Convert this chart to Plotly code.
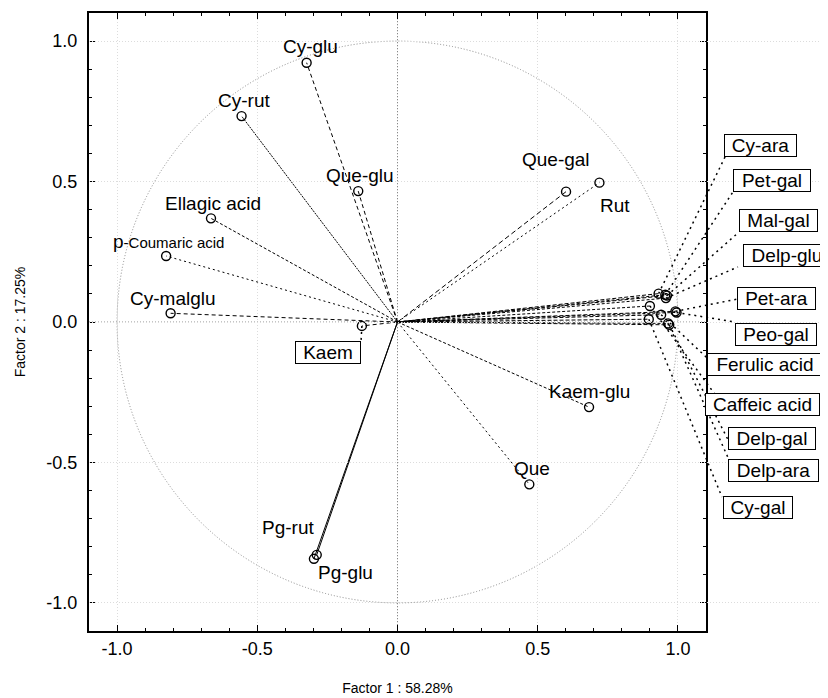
import plotly.graph_objects as go

# ---------------- data ----------------
names = ["Cy-glu", "Cy-rut", "Que-glu", "Ellagic acid", "p-Coumaric acid", "Cy-malglu",
         "Kaem", "Kaem-glu", "Que", "Pg-rut", "Pg-glu", "Que-gal", "Rut",
         "Cy-ara", "Pet-gal", "Mal-gal", "Delp-glu", "Pet-ara", "Peo-gal",
         "Ferulic acid", "Caffeic acid", "Delp-gal", "Delp-ara", "Cy-gal"]
factor1 = [-0.324, -0.556, -0.140, -0.665, -0.825, -0.809,
           -0.127, 0.683, 0.470, -0.288, -0.298, 0.601, 0.720,
           0.931, 0.955, 0.961, 0.957, 0.991, 0.995,
           0.940, 0.900, 0.969, 0.965, 0.896]
factor2 = [0.923, 0.733, 0.466, 0.369, 0.235, 0.031,
           -0.014, -0.303, -0.578, -0.829, -0.843, 0.464, 0.496,
           0.101, 0.097, 0.094, 0.085, 0.038, 0.034,
           0.026, 0.057, -0.010, -0.005, 0.010]
tick_vals = [-1.0, -0.5, 0.0, 0.5, 1.0]
tick_text = ["-1.0", "-0.5", "0.0", "0.5", "1.0"]
x_title = "Factor 1 : 58.28%"
y_title = "Factor 2 : 17.25%"

# ---------------- layout / style helpers ----------------
# free text labels (position of text centre, in axis units)
free_label_pos = {
    "Cy-glu": (-0.312, 0.979), "Cy-rut": (-0.547, 0.787), "Que-glu": (-0.134, 0.520),
    "Ellagic acid": (-0.658, 0.423), "p-Coumaric acid": (-0.818, 0.288),
    "Cy-malglu": (-0.801, 0.082), "Kaem-glu": (0.683, -0.246), "Que": (0.480, -0.523),
    "Pg-rut": (-0.390, -0.730), "Pg-glu": (-0.187, -0.890), "Que-gal": (0.565, 0.577),
    "Rut": (0.776, 0.413),
}
# boxed labels: (box centre x, box centre y, leader end x, leader end y, box width px)
boxed_label_pos = {
    "Kaem": (-0.248, -0.107, -0.130, -0.068, 66),
    "Cy-ara": (1.296, 0.630, 1.168, 0.588, 73),
    "Pet-gal": (1.335, 0.502, 1.196, 0.463, 78),
    "Mal-gal": (1.360, 0.363, 1.214, 0.317, 79),
    "Delp-glu": (1.388, 0.235, 1.214, 0.196, 88),
    "Pet-ara": (1.353, 0.082, 1.214, 0.082, 79),
    "Peo-gal": (1.350, -0.043, 1.203, 0.000, 82),
    "Ferulic acid": (1.310, -0.150, 1.104, -0.128, 116),
    "Caffeic acid": (1.303, -0.292, 1.139, -0.267, 115),
    "Delp-gal": (1.335, -0.413, 1.179, -0.420, 88),
    "Delp-ara": (1.342, -0.530, 1.179, -0.484, 91),
    "Cy-gal": (1.285, -0.662, 1.157, -0.623, 70),
}
dash_style = {
    "Cy-glu": "4px,3px", "Cy-rut": "2px,1px", "Que-glu": "4px,3px", "Ellagic acid": "3px,2px",
    "p-Coumaric acid": "2px,3px", "Cy-malglu": "4px,3px", "Kaem": "4px,3px",
    "Kaem-glu": "3px,2px", "Que": "2px,3px", "Pg-rut": "solid", "Pg-glu": "solid",
    "Que-gal": "5px,3px", "Rut": "2px,3px",
    "Cy-ara": "4px,2px", "Pet-gal": "3px,2px", "Mal-gal": "4px,2px", "Delp-glu": "3px,2px",
    "Pet-ara": "4px,2px", "Peo-gal": "3px,2px", "Ferulic acid": "4px,2px",
    "Caffeic acid": "3px,2px", "Delp-gal": "4px,2px", "Delp-ara": "3px,2px", "Cy-gal": "4px,2px",
}

# the page body adds an 8px offset, so the figure is 8px smaller than the window
W, H = 820, 690
ML, MR, MT, MB = 81, 0, 5, 67
plot_w = 617  # visible frame width in px
paper_w = W - ML - MR
px_per_unit = plot_w / 2.2
FONT = "Arial, Liberation Sans, Helvetica, sans-serif"
LABEL_SIZE = 19

fig = go.Figure()

# vectors from origin
for n, fx, fy in zip(names, factor1, factor2):
    fig.add_trace(go.Scatter(x=[0, fx], y=[0, fy], mode="lines",
                             line=dict(color="black", width=1, dash=dash_style[n]),
                             hoverinfo="skip", showlegend=False))
# points
fig.add_trace(go.Scatter(x=factor1, y=factor2, mode="markers", text=names,
                         marker=dict(symbol="circle-open", size=9, color="black",
                                     line=dict(width=1.4, color="black")),
                         showlegend=False, cliponaxis=False))

# leader lines (on a wider invisible x axis sharing the same scale)
for n, fx, fy in zip(names, factor1, factor2):
    if n in boxed_label_pos:
        bx, by, lx, ly, bw = boxed_label_pos[n]
        fig.add_trace(go.Scatter(x=[fx, lx], y=[fy, ly], mode="lines", xaxis="x2", yaxis="y",
                                 line=dict(color="black", width=1.5, dash="2px,4px"),
                                 hoverinfo="skip", showlegend=False))

# free labels
for n in names:
    if n in free_label_pos:
        tx, ty = free_label_pos[n]
        txt = n
        if n == "p-Coumaric acid":
            txt = "p<span style='font-size:15px'>-Coumaric acid</span>"
        fig.add_annotation(x=tx, y=ty, xref="x2", yref="y", text=txt, showarrow=False,
                           font=dict(family=FONT, size=LABEL_SIZE, color="black"),
                           xanchor="center", yanchor="middle")
# boxed labels
for n in names:
    if n in boxed_label_pos:
        bx, by, lx, ly, bw = boxed_label_pos[n]
        fig.add_annotation(x=bx, y=by, xref="x2", yref="y", text=n, showarrow=False,
                           font=dict(family=FONT, size=LABEL_SIZE, color="black"),
                           bordercolor="black", borderwidth=1, borderpad=0,
                           bgcolor="white", width=bw - 2, height=21,
                           xanchor="center", yanchor="middle")

# unit circle and zero lines
fig.add_shape(type="circle", xref="x", yref="y", x0=-1, y0=-1, x1=1, y1=1,
              line=dict(color="#8a8a8a", width=1, dash="1px,2px"), layer="below")
fig.add_shape(type="line", xref="x", yref="y domain", x0=0, x1=0, y0=0, y1=1,
              line=dict(color="#8a8a8a", width=1, dash="1px,2px"), layer="below")
fig.add_shape(type="line", xref="x domain", yref="y", x0=0, x1=1, y0=0, y1=0,
              line=dict(color="#8a8a8a", width=1, dash="1px,2px"), layer="below")

minor_vals = [round(-1.1 + 0.1 * i, 1) for i in range(23)]
axis_common = dict(range=[-1.1, 1.1], tickmode="array", tickvals=tick_vals, ticktext=tick_text,
                   ticks="inside", ticklen=6, tickwidth=1, tickcolor="black",
                   minor=dict(tickmode="array", tickvals=minor_vals, ticks="inside",
                              ticklen=3, tickcolor="black", showgrid=False),
                   showline=True, linewidth=2, linecolor="black", mirror="ticks",
                   showgrid=True, gridcolor="#dcdcdc", griddash="1px,2px", gridwidth=1,
                   zeroline=False, tickfont=dict(family=FONT, size=18, color="black"),
                   fixedrange=True)

fig.update_layout(
    width=W, height=H,
    margin=dict(l=ML, r=MR, t=MT, b=MB, autoexpand=False),
    paper_bgcolor="white", plot_bgcolor="rgba(0,0,0,0)",
    showlegend=False,
    xaxis=dict(domain=[0, plot_w / paper_w], anchor="y",
               title=dict(text=x_title, font=dict(family=FONT, size=14, color="black"), standoff=26),
               **axis_common),
    yaxis=dict(domain=[0, 1], anchor="x", ticklabelstandoff=6,
               title=dict(text=y_title, font=dict(family=FONT, size=14, color="black"), standoff=17),
               **axis_common),
    xaxis2=dict(domain=[0, 1], anchor="y", range=[-1.1, -1.1 + paper_w / px_per_unit],
                visible=False, fixedrange=True),
)

fig.write_html("out.html")
